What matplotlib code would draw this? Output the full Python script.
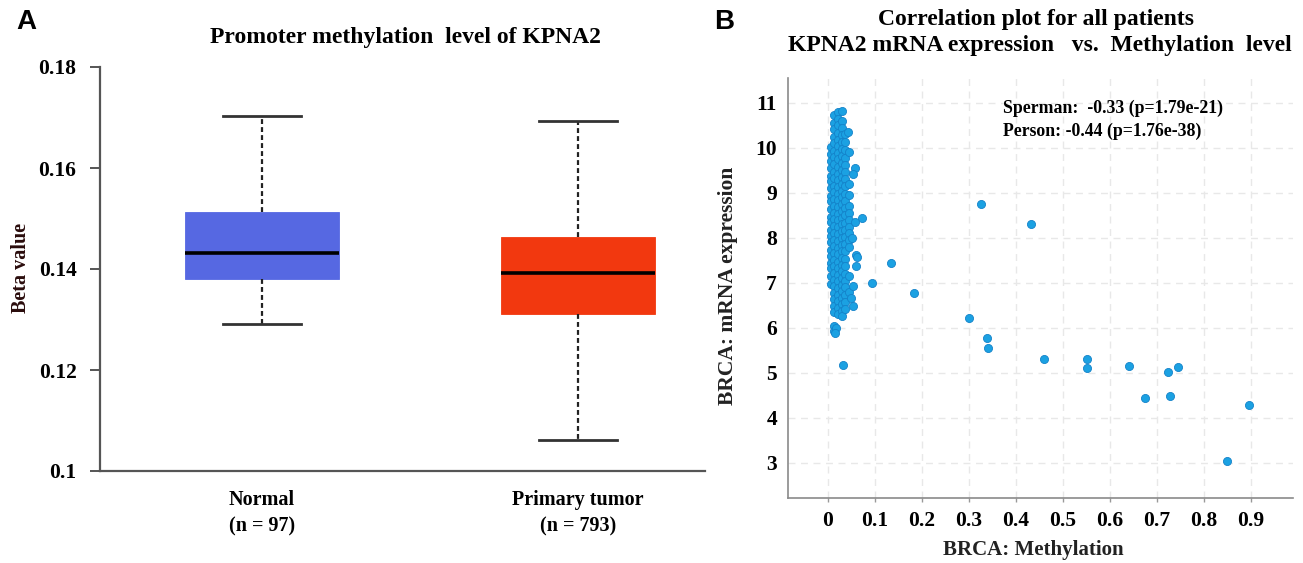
import matplotlib
matplotlib.use("Agg")
from matplotlib import pyplot as plt

# ---- panel A: promoter methylation boxplot ----
groups = ["Normal\n(n = 97)", "Primary tumor\n(n = 793)"]
box_q1 = [0.138, 0.131]
box_med = [0.1432, 0.1392]
box_q3 = [0.1513, 0.1463]
whisk_lo = [0.1291, 0.1061]
whisk_hi = [0.1703, 0.1693]
box_colors = ["#5668E2", "#F2380F"]

# ---- panel B: methylation vs mRNA expression ----
# dense cluster near zero methylation, one y-list per column
cluster_cols = [0.006, 0.013, 0.021, 0.029, 0.037, 0.044]
cluster_ys = [
    [10.02, 9.86, 9.71, 9.55, 9.38, 9.27, 9.1, 8.93, 8.81, 8.64, 8.47, 8.36, 8.18,
     8.03, 7.91, 7.74, 7.6, 7.44, 7.33, 7.15, 6.98],
    [10.72, 10.55, 10.41, 10.24, 10.1, 9.93, 9.8, 9.63, 9.47, 9.32, 9.16, 9.02,
     8.87, 8.7, 8.55, 8.41, 8.26, 8.1, 7.96, 7.81, 7.67, 7.5, 7.37, 7.21, 7.07,
     6.92, 6.78, 6.63, 6.49, 6.36, 6.05, 5.93],
    [10.8, 10.65, 10.5, 10.33, 10.18, 10.04, 9.88, 9.74, 9.58, 9.42, 9.29, 9.13,
     8.97, 8.84, 8.68, 8.52, 8.39, 8.23, 8.08, 7.93, 7.78, 7.64, 7.47, 7.33,
     7.18, 7.04, 6.88, 6.74, 6.6, 6.44, 6.3],
    [10.82, 10.6, 10.45, 10.28, 10.13, 9.97, 9.82, 9.66, 9.5, 9.36, 9.2, 9.05,
     8.9, 8.76, 8.6, 8.45, 8.3, 8.15, 8.0, 7.85, 7.7, 7.55, 7.4, 7.26, 7.1,
     6.96, 6.81, 6.67, 6.52, 6.38, 6.27],
    [10.3, 10.12, 9.95, 9.78, 9.62, 9.46, 9.3, 9.14, 8.98, 8.82, 8.66, 8.5,
     8.34, 8.18, 8.02, 7.86, 7.7, 7.54, 7.38, 7.2, 7.05, 6.9, 6.72, 6.58, 6.42],
    [9.9, 9.2, 8.95, 8.7, 8.55, 8.4, 8.25, 8.1, 7.95, 7.8, 7.15, 6.8],
]
# scattered samples away from the cluster
other_x = [0.043, 0.058, 0.053, 0.073, 0.058, 0.060, 0.062, 0.059, 0.053, 0.053,
           0.049, 0.052, 0.018, 0.016, 0.032,
           0.326, 0.433, 0.134, 0.094, 0.183, 0.300, 0.339, 0.340, 0.460, 0.552,
           0.552, 0.640, 0.723, 0.746, 0.676, 0.729, 0.896, 0.849]
other_y = [10.36, 9.55, 9.41, 8.44, 8.36, 7.62, 7.58, 7.38, 6.93, 6.49,
           6.67, 7.99, 6.0, 5.88, 5.18,
           8.76, 8.31, 7.44, 7.0, 6.78, 6.22, 5.78, 5.56, 5.31, 5.31,
           5.11, 5.16, 5.02, 5.13, 4.44, 4.49, 4.29, 3.04]
x_ticks = [0, 0.1, 0.2, 0.3, 0.4, 0.5, 0.6, 0.7, 0.8, 0.9]
y_ticks = [3, 4, 5, 6, 7, 8, 9, 10, 11]

W, H = 1303, 563
SERIF = "Liberation Serif"


def px_box(x0, y0, x1, y1):
    # pixel box (top-left origin) -> figure fraction rect
    return [x0 / W, 1 - y1 / H, (x1 - x0) / W, (y1 - y0) / H]


def ftext(x, y, s, **kw):
    fig.text(x / W, 1 - y / H, s, **kw)


fig = plt.figure(figsize=(W / 100, H / 100), dpi=100)

# ---------------- panel A ----------------
ax1 = fig.add_axes(px_box(100, 67, 705, 471))
stats = []
for i in range(len(groups)):
    stats.append(dict(med=box_med[i], q1=box_q1[i], q3=box_q3[i],
                      whislo=whisk_lo[i], whishi=whisk_hi[i], fliers=[],
                      label=groups[i]))
bp = ax1.bxp(stats, positions=[1, 2], widths=0.49, patch_artist=True,
             showfliers=False, capwidths=0.245,
             boxprops=dict(linewidth=0.6),
             whiskerprops=dict(color="#222222", linewidth=1.6, linestyle=(0, (2.2, 1.4))),
             capprops=dict(color="#333333", linewidth=2.0),
             medianprops=dict(color="black", linewidth=2.6))
for patch, c in zip(bp["boxes"], box_colors):
    patch.set_facecolor(c)
    patch.set_edgecolor(c)

ax1.set_xlim(0.487, 2.402)
ax1.set_ylim(0.1, 0.18)
ax1.set_yticks([0.1, 0.12, 0.14, 0.16, 0.18])
ax1.set_yticklabels(["0.1", "0.12", "0.14", "0.16", "0.18"])
ax1.spines["top"].set_visible(False)
ax1.spines["right"].set_visible(False)
for sp in ("left", "bottom"):
    ax1.spines[sp].set_color("#555555")
    ax1.spines[sp].set_linewidth(1.6)
ax1.tick_params(axis="y", length=7, width=1.4, color="#555555", pad=10)
ax1.tick_params(axis="x", length=0, pad=14)
for lab in ax1.get_yticklabels():
    lab.set_fontfamily(SERIF)
    lab.set_fontweight("bold")
    lab.set_fontsize(15.5)
for lab in ax1.get_xticklabels():
    lab.set_fontfamily(SERIF)
    lab.set_fontweight("bold")
    lab.set_fontsize(14.5)
    lab.set_linespacing(1.4)

ftext(405, 37, "Promoter methylation  level of KPNA2", ha="center", va="center",
      family=SERIF, weight="bold", fontsize=17)
ftext(21, 268, "Beta value", ha="center", va="center", rotation=90,
      family=SERIF, weight="bold", fontsize=14.5, color="#2a0c0c")
ftext(26, 22, "A", ha="center", va="center", family="Liberation Sans",
      weight="bold", fontsize=20)

# ---------------- panel B ----------------
ax2 = fig.add_axes(px_box(788, 78, 1293, 498))
ax2.grid(True, color="#e8e8e8", linestyle=(0, (5, 4)), linewidth=1.0)
ax2.set_axisbelow(True)
for cx, ys in zip(cluster_cols, cluster_ys):
    ax2.scatter([cx] * len(ys), ys, s=34, color="#1BA1E2",
                edgecolors="#1482C9", linewidths=0.6, zorder=3)
ax2.scatter(other_x, other_y, s=34, color="#1BA1E2",
            edgecolors="#1482C9", linewidths=0.6, zorder=3)

ax2.set_xlim(-0.085, 0.99)
ax2.set_ylim(2.22, 11.55)
ax2.set_xticks(x_ticks)
ax2.set_xticklabels(["0"] + [str(v) for v in x_ticks[1:]])
ax2.set_yticks(y_ticks)
ax2.spines["top"].set_visible(False)
ax2.spines["right"].set_visible(False)
for sp in ("left", "bottom"):
    ax2.spines[sp].set_color("#8a8a8a")
    ax2.spines[sp].set_linewidth(1.2)
ax2.tick_params(axis="x", length=3, width=1, color="#999999", pad=6)
ax2.tick_params(axis="y", length=0, pad=8)
for lab in ax2.get_yticklabels() + ax2.get_xticklabels():
    lab.set_fontfamily(SERIF)
    lab.set_fontweight("bold")
    lab.set_fontsize(15.5)

ftext(1036, 19, "Correlation plot for all patients", ha="center", va="center",
      family=SERIF, weight="bold", fontsize=17)
ftext(1040, 46, "KPNA2 mRNA expression   vs.  Methylation  level", ha="center",
      va="center", family=SERIF, weight="bold", fontsize=17)
ftext(1003, 108, "Sperman:  -0.33 (p=1.79e-21)", ha="left", va="center",
      family=SERIF, weight="bold", fontsize=12.8)
ftext(1003, 131, "Person: -0.44 (p=1.76e-38)", ha="left", va="center",
      family=SERIF, weight="bold", fontsize=12.8)
ftext(1033, 550, "BRCA: Methylation", ha="center", va="center",
      family=SERIF, weight="bold", fontsize=15, color="#222222")
ftext(728, 286, "BRCA: mRNA expression", ha="center", va="center", rotation=90,
      family=SERIF, weight="bold", fontsize=15.5, color="#222222")
ftext(724, 22, "B", ha="center", va="center", family="Liberation Sans",
      weight="bold", fontsize=20)

fig.savefig("out.png", dpi=100)
